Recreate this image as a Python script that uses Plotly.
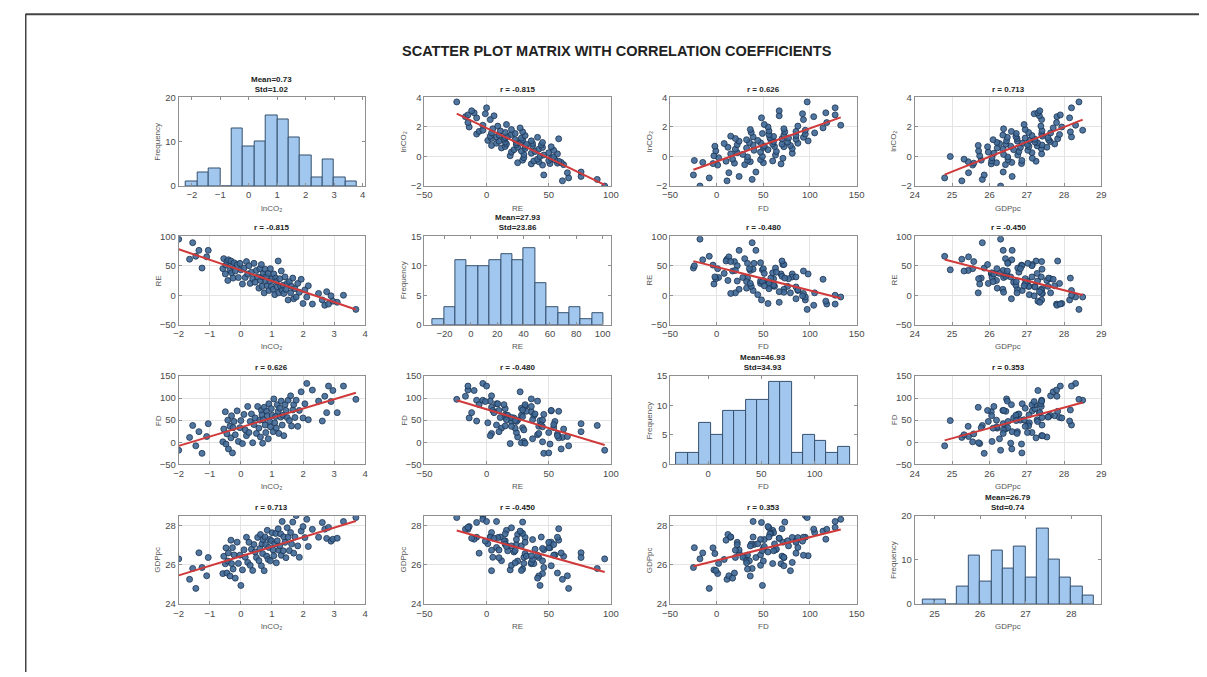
import numpy as np
import plotly.graph_objects as go

W, H = 1207, 677

# ---------------- data ----------------
VAR_LABELS = ["lnCO₂", "RE", "FD", "GDPpc"]

lnco2 = [-2.0, -1.65, -1.55, -1.45, -1.35, -1.25, -1.1, -1.05, -0.58, -0.55,
         -0.5, -0.48, -0.45, -0.42, -0.4, -0.35, -0.32, -0.3, -0.27, -0.25,
         -0.22, -0.18, -0.12, -0.08, -0.03, 0.0, 0.05, 0.1, 0.14, 0.18,
         0.22, 0.26, 0.3, 0.34, 0.38, 0.42, 0.46, 0.5, 0.54, 0.58,
         0.61, 0.63, 0.66, 0.68, 0.7, 0.72, 0.75, 0.78, 0.8, 0.83,
         0.85, 0.88, 0.9, 0.93, 0.95, 0.98, 1.01, 1.04, 1.06, 1.09,
         1.12, 1.14, 1.17, 1.2, 1.22, 1.25, 1.28, 1.3, 1.33, 1.36,
         1.38, 1.42, 1.45, 1.49, 1.52, 1.56, 1.6, 1.63, 1.67, 1.7,
         1.74, 1.78, 1.83, 1.88, 1.94, 2.0, 2.06, 2.12, 2.17, 2.3,
         2.5, 2.62, 2.7, 2.76, 2.82, 2.9, 2.96, 3.1, 3.3, 3.7]

re_vals = [95, 61, 89, 66, 76, 46, 65, 76, 45, 62,
           36, 51, 57, 25, 60, 42, 58, 38, 50, 29,
           55, 41, 52, 30, 54, 43, 19, 46, 30, 57,
           36, 50, 20, 39, 28, 54, 22, 42, 31, 12,
           45, 25, 52, 15, 31, 37, 4, 44, 24, 32,
           16, 37, 8, 24, 45, 15, 28, 10, 36, 1,
           29, 23, 14, 58, 4, 28, 15, 41, 8, 17,
           3, 31, 10, 20, -8, 23, 4, 15, 29, -6,
           11, -3, 20, 5, 27, -14, 9, -3, 16, -15,
           3, -8, -17, 6, -15, -1, -10, -12, 0, -24]

fd_vals = [-18, 11, 38, -8, 24, -25, 13, 42, 1, 30,
           69, -4, 19, 50, -15, 36, 10, 60, -24, 33,
           47, 17, 71, 2, 33, 49, -3, 63, 28, 15,
           81, 22, 47, 64, -1, 40, 55, 20, 81, 32,
           50, 12, 72, 62, -2, 51, 79, 39, 22, 70,
           60, 8, 87, 47, 35, 76, 61, 24, 98, 44,
           58, 32, 85, 70, 20, 77, 57, 93, 39, 61,
           15, 85, 72, 56, 95, 49, 105, 37, 73, 85,
           56, 95, 36, 72, 114, 55, 87, 133, 51, 118,
           93, 48, 104, 67, 127, 92, 117, 67, 127, 97]

gdppc = [26.30, 25.26, 25.81, 24.80, 26.61, 25.86, 25.44, 26.37, 25.55, 26.43,
         26.05, 26.86, 25.58, 26.19, 26.60, 25.43, 27.25, 26.06, 26.87, 25.78,
         26.50, 25.32, 27.15, 26.07, 26.49, 24.95, 25.74, 26.76, 26.38, 27.40,
         26.12, 27.14, 25.97, 26.79, 25.71, 27.03, 26.65, 26.37, 27.39, 26.21,
         26.83, 27.54, 25.95, 27.06, 26.57, 27.28, 25.70, 27.41, 27.02, 26.44,
         27.75, 26.27, 26.88, 27.29, 26.20, 27.22, 27.63, 26.75, 26.46, 27.07,
         27.59, 26.10, 27.22, 27.83, 26.74, 26.96, 27.57, 26.48, 28.20, 26.71,
         27.42, 27.14, 26.36, 27.88, 27.40, 26.72, 27.64, 27.05, 28.17, 26.59,
         27.41, 28.50, 26.96, 26.38, 27.71, 27.94, 27.38, 28.31, 26.93, 27.80,
         27.40, 28.15, 27.81, 27.34, 27.90, 27.20, 27.30, 27.35, 28.20, 28.40]

DATA = [lnco2, re_vals, fd_vals, gdppc]

# histogram bin counts
hist_lnco2 = [1, 3, 4, 0, 13, 9, 10, 16, 15, 11, 7, 2, 6, 2, 1]
hist_re = [1, 3, 11, 10, 10, 11, 12, 11, 13, 7, 3, 2, 3, 1, 2]
hist_fd = [2, 2, 7, 5, 9, 9, 11, 11, 14, 14, 2, 5, 4, 2, 3]
hist_gdppc = [1, 1, 0, 4, 11, 5, 12, 8, 13, 6, 17, 10, 6, 4, 2]
HIST_COUNTS = [hist_lnco2, hist_re, hist_fd, hist_gdppc]
hist_bin_start = [-2.2, -29.0, -29.6, 24.75]
hist_bin_width = [0.4, 8.65, 10.83, 0.25]

hist_mean = ["0.73", "27.93", "46.93", "26.79"]
hist_std = ["1.02", "23.86", "34.93", "0.74"]

r_text = [[None, "-0.815", "0.626", "0.713"],
          ["-0.815", None, "-0.480", "-0.450"],
          ["0.626", "-0.480", None, "0.353"],
          ["0.713", "-0.450", "0.353", None]]

# axis ranges / ticks
x_range = [[-2, 4], [-50, 100], [-50, 150], [24, 29]]
x_ticks = [[-2, -1, 0, 1, 2, 3, 4], [-50, 0, 50, 100], [-50, 0, 50, 100, 150],
           [24, 25, 26, 27, 28, 29]]
y_range = [[-2, 4], [-50, 100], [-50, 150], [24, 28.5]]
y_ticks = [[-2, 0, 2, 4], [-50, 0, 50, 100], [-50, 0, 50, 100, 150], [24, 26, 28]]
hist_x_range = [[-2.46, 4.09], [-35.2, 106.2], [-35.6, 139.4], [24.57, 28.66]]
hist_x_ticks = [[-2, -1, 0, 1, 2, 3, 4], [-20, 0, 20, 40, 60, 80, 100],
                [0, 50, 100], [25, 26, 27, 28]]
hist_y_range = [[0, 20], [0, 15], [0, 15], [0, 20]]
hist_y_ticks = [[0, 10, 20], [0, 5, 10, 15], [0, 5, 10, 15], [0, 10, 20]]

# ---------------- layout geometry (pixels) ----------------
col_left = [173, 422, 671, 919]
row_top = [93, 234, 376, 518]
PW, PH = 189, 90

FONT = "Liberation Sans, Arial, Helvetica, sans-serif"
TICKFONT = dict(family=FONT, size=9.5, color="#4a4a4a")
BOX = "#8f8f8f"

fig = go.Figure()
layout = {}
annotations = []

for i in range(4):
    for j in range(4):
        k = i * 4 + j + 1
        xs = "" if k == 1 else str(k)
        xref, yref = "x" + xs, "y" + xs
        x0, y0 = col_left[j], row_top[i]
        xdom = [x0 / W, (x0 + PW) / W]
        ydom = [1 - (y0 + PH) / H, 1 - y0 / H]
        common = dict(showline=True, linecolor=BOX, linewidth=1, zeroline=False,
                      ticks="inside", ticklen=3, tickcolor=BOX, tickwidth=1,
                      tickfont=TICKFONT, fixedrange=True)
        if i == j:
            counts = HIST_COUNTS[i]
            w = hist_bin_width[i]
            centers = [hist_bin_start[i] + w * (n + 0.5) for n in range(len(counts))]
            fig.add_trace(go.Bar(x=centers, y=counts, width=w,
                                 marker=dict(color="#a2c7ee",
                                             line=dict(color="#34506e", width=1)),
                                 xaxis=xref, yaxis=yref, showlegend=False))
            layout["xaxis" + xs] = dict(domain=xdom, anchor=yref, range=hist_x_range[i],
                                        tickvals=hist_x_ticks[i], showgrid=False,
                                        mirror="ticks", **common)
            layout["yaxis" + xs] = dict(domain=ydom, anchor=xref, range=hist_y_range[i],
                                        tickvals=hist_y_ticks[i], showgrid=False,
                                        mirror="ticks", **common)
            title = f"<b>Mean={hist_mean[i]}</b><br><b>Std={hist_std[i]}</b>"
            ylab = "Frequency"
        else:
            xv = np.array(DATA[j], dtype=float)
            yv = np.array(DATA[i], dtype=float)
            fig.add_trace(go.Scatter(x=xv, y=yv, mode="markers",
                                     marker=dict(size=6, color="rgba(62,104,150,0.9)",
                                                 line=dict(color="#1c3452", width=0.8)),
                                     xaxis=xref, yaxis=yref, showlegend=False))
            slope, icpt = np.polyfit(xv, yv, 1)
            lx = np.array([xv.min(), xv.max()])
            fig.add_trace(go.Scatter(x=lx, y=slope * lx + icpt, mode="lines",
                                     line=dict(color="#d03a3a", width=2),
                                     xaxis=xref, yaxis=yref, showlegend=False))
            layout["xaxis" + xs] = dict(domain=xdom, anchor=yref, range=x_range[j],
                                        tickvals=x_ticks[j], showgrid=True,
                                        gridcolor="#e4e4e4", mirror=True, **common)
            layout["yaxis" + xs] = dict(domain=ydom, anchor=xref, range=y_range[i],
                                        tickvals=y_ticks[i], showgrid=True,
                                        gridcolor="#e4e4e4", mirror=True, **common)
            title = f"<b>r = {r_text[i][j]}</b>"
            ylab = VAR_LABELS[i]

        cx = (x0 + PW / 2) / W
        annotations.append(dict(x=cx, y=1 - (y0 - 2) / H, xref="paper", yref="paper",
                                text=title, showarrow=False, xanchor="center",
                                yanchor="bottom",
                                font=dict(family=FONT, size=8, color="#222222")))
        annotations.append(dict(x=cx, y=1 - (y0 + PH + 16) / H, xref="paper", yref="paper",
                                text=VAR_LABELS[j], showarrow=False, xanchor="center",
                                yanchor="top",
                                font=dict(family=FONT, size=8, color="#555555")))
        annotations.append(dict(x=(x0 - 21) / W, y=1 - (y0 + PH / 2) / H, xref="paper",
                                yref="paper", text=ylab, showarrow=False, textangle=-90,
                                xanchor="center", yanchor="middle",
                                font=dict(family=FONT, size=8, color="#555555")))

annotations.append(dict(x=617 / W, y=1 - 46 / H, xref="paper", yref="paper",
                        text="<b>SCATTER PLOT MATRIX WITH CORRELATION COEFFICIENTS</b>",
                        showarrow=False, xanchor="center", yanchor="middle",
                        font=dict(family=FONT, size=14.5, color="#222222")))

shapes = [
    dict(type="line", xref="paper", yref="paper", x0=18 / W, x1=1.0,
         y0=1 - 8.5 / H, y1=1 - 8.5 / H, line=dict(color="#444444", width=2)),
    dict(type="line", xref="paper", yref="paper", x0=18 / W, x1=18 / W,
         y0=1 - 8 / H, y1=0, line=dict(color="#444444", width=1.5)),
]

fig.update_layout(width=W, height=H, margin=dict(l=0, r=0, t=0, b=0),
                  paper_bgcolor="white", plot_bgcolor="white", bargap=0,
                  annotations=annotations, shapes=shapes, **layout)

fig.write_html("out.html", config={"displayModeBar": False})

# remove the default page margin so the 1207x677 figure fills the window exactly
with open("out.html", "r", encoding="utf-8") as fh:
    html = fh.read()
html = html.replace("<head>", "<head><style>html,body{margin:0;padding:0;overflow:hidden;}</style>", 1)
with open("out.html", "w", encoding="utf-8") as fh:
    fh.write(html)
